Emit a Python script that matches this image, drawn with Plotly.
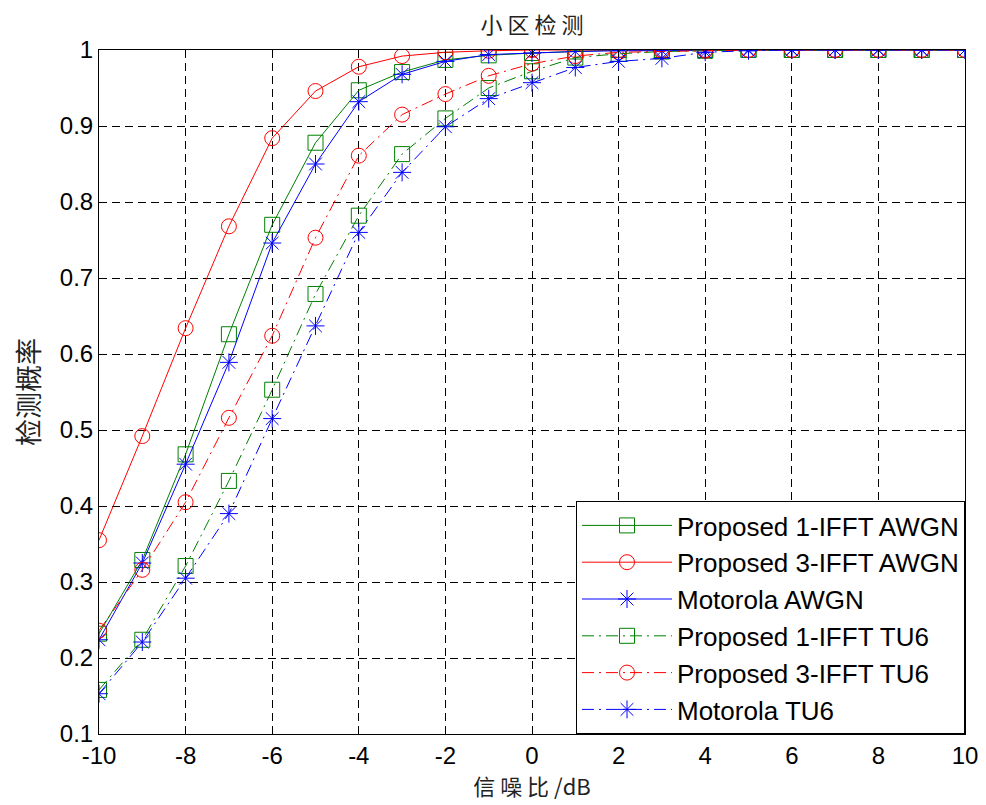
import plotly.graph_objects as go

snr = list(range(-10, 11))

awgn_1ifft = [0.232, 0.329, 0.468, 0.626, 0.770, 0.878, 0.947, 0.971, 0.987, 0.993, 0.996, 0.998, 1.0, 1.0, 1.0, 1.0, 1.0, 1.0, 1.0, 1.0, 1.0]
awgn_3ifft = [0.355, 0.492, 0.634, 0.768, 0.884, 0.946, 0.978, 0.992, 0.997, 0.999, 1.0, 1.0, 1.0, 1.0, 1.0, 1.0, 1.0, 1.0, 1.0, 1.0, 1.0]
awgn_moto = [0.224, 0.325, 0.455, 0.589, 0.746, 0.850, 0.932, 0.968, 0.985, 0.994, 0.996, 0.998, 0.999, 0.999, 1.0, 1.0, 1.0, 1.0, 1.0, 1.0, 1.0]
tu6_1ifft = [0.158, 0.224, 0.321, 0.433, 0.553, 0.679, 0.782, 0.863, 0.910, 0.950, 0.972, 0.990, 0.995, 0.998, 0.999, 1.0, 1.0, 1.0, 1.0, 1.0, 1.0]
tu6_3ifft = [0.236, 0.316, 0.405, 0.516, 0.624, 0.753, 0.861, 0.915, 0.942, 0.966, 0.982, 0.992, 0.997, 0.998, 0.999, 1.0, 1.0, 1.0, 1.0, 1.0, 1.0]
tu6_moto = [0.153, 0.221, 0.305, 0.390, 0.515, 0.637, 0.760, 0.839, 0.899, 0.936, 0.957, 0.977, 0.985, 0.989, 0.997, 0.999, 1.0, 1.0, 1.0, 1.0, 1.0]

names = ["Proposed 1-IFFT AWGN", "Proposed 3-IFFT AWGN", "Motorola AWGN",
         "Proposed 1-IFFT TU6", "Proposed 3-IFFT TU6", "Motorola TU6"]
series = [awgn_1ifft, awgn_3ifft, awgn_moto, tu6_1ifft, tu6_3ifft, tu6_moto]
colors = ["#008000", "#FF0000", "#0000FF", "#008000", "#FF0000", "#0000FF"]
symbols = ["square-open", "circle-open", "asterisk-open", "square-open", "circle-open", "asterisk-open"]
dashes = ["solid", "solid", "solid", "12px,5px,2px,5px", "12px,5px,2px,5px", "12px,5px,2px,5px"]

xticks = list(range(-10, 11, 2))
xticklabels = ["-10", "-8", "-6", "-4", "-2", "0", "2", "4", "6", "8", "10"]
yticks = [round(0.1 * i, 1) for i in range(1, 11)]
yticklabels = ["0.1", "0.2", "0.3", "0.4", "0.5", "0.6", "0.7", "0.8", "0.9", "1"]

fig = go.Figure()
for n, s, c, m, d in zip(names, series, colors, symbols, dashes):
    fig.add_trace(go.Scatter(
        x=snr, y=s, name=n, mode="lines+markers",
        line=dict(color=c, width=1, dash=d),
        marker=dict(symbol=m, size=15, color=c, line=dict(width=1, color=c)),
    ))

axis_common = dict(
    showline=True, linecolor="black", linewidth=1, mirror="ticks",
    ticks="inside", ticklen=7, tickcolor="black",
    showgrid=True, gridcolor="black", gridwidth=1, griddash="8px,5px",
    zeroline=False, automargin=False,
    tickfont=dict(family="Liberation Sans, Arial", size=24, color="black"),
)

fig.update_layout(
    width=986, height=805,
    paper_bgcolor="white", plot_bgcolor="white",
    margin=dict(l=91, r=29, t=42, b=79),
    title=dict(text="小 区 检 测", x=0.5, xanchor="center", y=1 - 17 / 805, yanchor="middle",
               xref="paper",
               font=dict(family="Noto Sans CJK SC", size=22, color="#222222")),
    xaxis=dict(range=[-10, 10], tickvals=xticks, ticktext=xticklabels,
               title=dict(text="信 噪 比 /dB", standoff=4,
                          font=dict(family="Noto Sans CJK SC", size=22, color="#222222")),
               **axis_common),
    yaxis=dict(range=[0.1, 1], tickvals=yticks, ticktext=yticklabels,
               title=dict(text="检测概率", standoff=14,
                          font=dict(family="Noto Sans CJK SC", size=27, color="#222222")),
               **axis_common),
    legend=dict(x=1, xanchor="right", y=0, yanchor="bottom",
                bgcolor="white", bordercolor="black", borderwidth=1,
                font=dict(family="Liberation Sans, Arial", size=26, color="black"),
                tracegroupgap=0, itemwidth=90),
    showlegend=True,
)

fig.write_html("out.html")
